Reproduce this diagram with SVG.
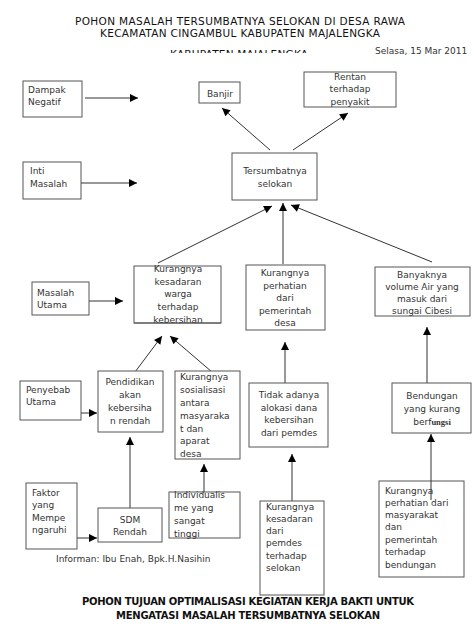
<svg xmlns="http://www.w3.org/2000/svg" width="474" height="632" viewBox="0 0 474 632">
<style>
text{font-family:"DejaVu Sans","Liberation Sans",sans-serif;font-size:9px;fill:#333}
.c{text-anchor:middle}
.t{font-size:10.5px;fill:#111;text-anchor:middle}
.b{font-size:10px;font-weight:bold;fill:#111;text-anchor:middle}
rect{fill:#fff;stroke:#555;stroke-width:1}
.e line{stroke:#333;stroke-width:1;marker-end:url(#ah)}
</style>
<defs>
<marker id="ah" viewBox="0 0 10 10" refX="10" refY="5" markerUnits="userSpaceOnUse" markerWidth="9" markerHeight="8" orient="auto">
<path d="M0,0 L10,5 L0,10 z" fill="#000"/>
</marker>
<clipPath id="cl"><rect x="0" y="0" width="474" height="53"/></clipPath>
</defs>
<rect x="0" y="0" width="474" height="632" style="fill:#fff;stroke:none"/>
<g id="title">
<text class="t" x="240" y="25" textLength="330">POHON  MASALAH  TERSUMBATNYA SELOKAN DI DESA RAWA</text>
<text class="t" x="240" y="37" textLength="280">KECAMATAN CINGAMBUL KABUPATEN MAJALENGKA</text>
<text class="t" x="239" y="58" textLength="138" clip-path="url(#cl)">KABUPATEN MAJALENGKA</text>
<text x="375" y="54">Selasa, 15 Mar 2011</text>
</g>
<g class="e" id="connectors">
<line x1="85" y1="98" x2="138" y2="98"/>
<line x1="270" y1="150" x2="222" y2="108"/>
<line x1="293" y1="150" x2="348" y2="113"/>
<line x1="81" y1="183" x2="137" y2="183"/>
<line x1="158" y1="263" x2="272" y2="206"/>
<line x1="283" y1="264" x2="283" y2="203"/>
<line x1="432" y1="262" x2="291" y2="205"/>
<line x1="89" y1="301" x2="123" y2="301"/>
<line x1="135" y1="372" x2="162" y2="336"/>
<line x1="212" y1="372" x2="170" y2="336"/>
<line x1="81" y1="413" x2="97" y2="413"/>
<line x1="130" y1="508" x2="130" y2="437"/>
<line x1="204" y1="492" x2="204" y2="464"/>
<line x1="73" y1="538" x2="97" y2="538"/>
<line x1="285" y1="383" x2="285" y2="342"/>
<line x1="292" y1="501" x2="292" y2="454"/>
<line x1="427" y1="383" x2="427" y2="327"/>
</g>
<g id="dampak"><rect x="23" y="81" width="59" height="36"/><text x="28" y="93">Dampak</text><text x="28" y="105">Negatif</text></g>
<g id="banjir"><rect x="199" y="82" width="41" height="21"/><text class="c" x="220" y="97">Banjir</text></g>
<g id="rentan"><rect x="304" y="72" width="92" height="35"/><text class="c" x="350" y="80">Rentan</text><text class="c" x="350" y="92">terhadap</text><text class="c" x="350" y="105">penyakit</text></g>
<g id="inti"><rect x="23" y="162" width="58" height="37"/><text x="30" y="174">Inti</text><text x="30" y="187">Masalah</text></g>
<g id="tersumbat"><rect x="232" y="153" width="85" height="47"/><text class="c" x="275" y="174">Tersumbatnya</text><text class="c" x="275" y="187">selokan</text></g>
<g id="masalahutama"><rect x="32" y="282" width="57" height="33"/><text x="37" y="296">Masalah</text><text x="37" y="308">Utama</text></g>
<g id="kesadaran"><rect x="134" y="266" width="87" height="57"/><text class="c" x="178" y="272">Kurangnya</text><text class="c" x="178" y="285">kesadaran</text><text class="c" x="178" y="297">warga</text><text class="c" x="178" y="310">terhadap</text><text class="c" x="178" y="323">kebersihan</text><line x1="134" y1="323" x2="221" y2="323" stroke="#555"/></g>
<g id="perhatian"><rect x="246" y="265" width="79" height="65"/><text class="c" x="285" y="276">Kurangnya</text><text class="c" x="285" y="289">perhatian</text><text class="c" x="285" y="301">dari</text><text class="c" x="285" y="314">pemerintah</text><text class="c" x="285" y="326">desa</text></g>
<g id="banyaknya"><rect x="375" y="267" width="95" height="49"/><text class="c" x="422" y="278">Banyaknya</text><text class="c" x="422" y="290">volume Air yang</text><text class="c" x="422" y="302">masuk dari</text><text class="c" x="422" y="314">sungai Cibesi</text></g>
<g id="penyebab"><rect x="20" y="381" width="61" height="39"/><text x="26" y="393">Penyebab</text><text x="26" y="405">Utama</text></g>
<g id="pendidikan"><rect x="98" y="371" width="65" height="61"/><text class="c" x="130" y="385">Pendidikan</text><text class="c" x="130" y="398">akan</text><text class="c" x="130" y="411">kebersiha</text><text class="c" x="130" y="424">n rendah</text></g>
<g id="sosialisasi"><rect x="175" y="371" width="65" height="88"/><text x="180" y="380">Kurangnya</text><text x="180" y="393">sosialisasi</text><text x="180" y="406">antara</text><text x="180" y="419">masyaraka</text><text x="180" y="432">t dan</text><text x="180" y="444">aparat</text><text x="180" y="457">desa</text></g>
<g id="tidak"><rect x="249" y="383" width="79" height="64"/><text class="c" x="289" y="398">Tidak adanya</text><text class="c" x="289" y="411">alokasi dana</text><text class="c" x="289" y="423">kebersihan</text><text class="c" x="289" y="436">dari pemdes</text></g>
<g id="bendungan"><rect x="392" y="383" width="79" height="50"/><text class="c" x="432" y="399">Bendungan</text><text class="c" x="432" y="412">yang kurang</text><text class="c" x="432" y="425">berf<tspan style="font-family:'Liberation Serif',serif;font-size:8.5px;font-weight:bold">ungsi</tspan></text></g>
<g id="faktor"><rect x="26" y="483" width="51" height="66"/><text x="32" y="496">Faktor</text><text x="32" y="508">yang</text><text x="32" y="521">Mempe</text><text x="32" y="533">ngaruhi</text></g>
<g id="sdm"><rect x="98" y="508" width="64" height="34"/><text class="c" x="130" y="523">SDM</text><text class="c" x="130" y="535">Rendah</text></g>
<g id="individualisme"><rect x="169" y="492" width="71" height="46"/><text x="174" y="498">Individualis</text><text x="174" y="511">me yang</text><text x="174" y="524">sangat</text><text x="174" y="537">tinggi</text></g>
<g id="pemdes"><rect x="260" y="501" width="64" height="94"/><text x="266" y="510">Kurangnya</text><text x="266" y="522">kesadaran</text><text x="266" y="534">dari</text><text x="266" y="546">pemdes</text><text x="266" y="559">terhadap</text><text x="266" y="571">selokan</text></g>
<g id="masyarakat"><rect x="379" y="481" width="85" height="96"/><text x="385" y="494">Kurangnya</text><text x="385" y="506">perhatian dari</text><text x="385" y="518">masyarakat</text><text x="385" y="530">dan</text><text x="385" y="543">pemerintah</text><text x="385" y="555">terhadap</text><text x="385" y="568">bendungan</text></g>
<g class="e"><line x1="431" y1="500" x2="431" y2="434"/></g>
<text x="56" y="562">Informan: Ibu Enah, Bpk.H.Nasihin</text>
<g id="footer">
<text class="b" x="248" y="605" textLength="332">POHON TUJUAN OPTIMALISASI KEGIATAN KERJA BAKTI UNTUK</text>
<text class="b" x="248" y="619" textLength="264">MENGATASI MASALAH TERSUMBATNYA SELOKAN</text>
</g>
</svg>
